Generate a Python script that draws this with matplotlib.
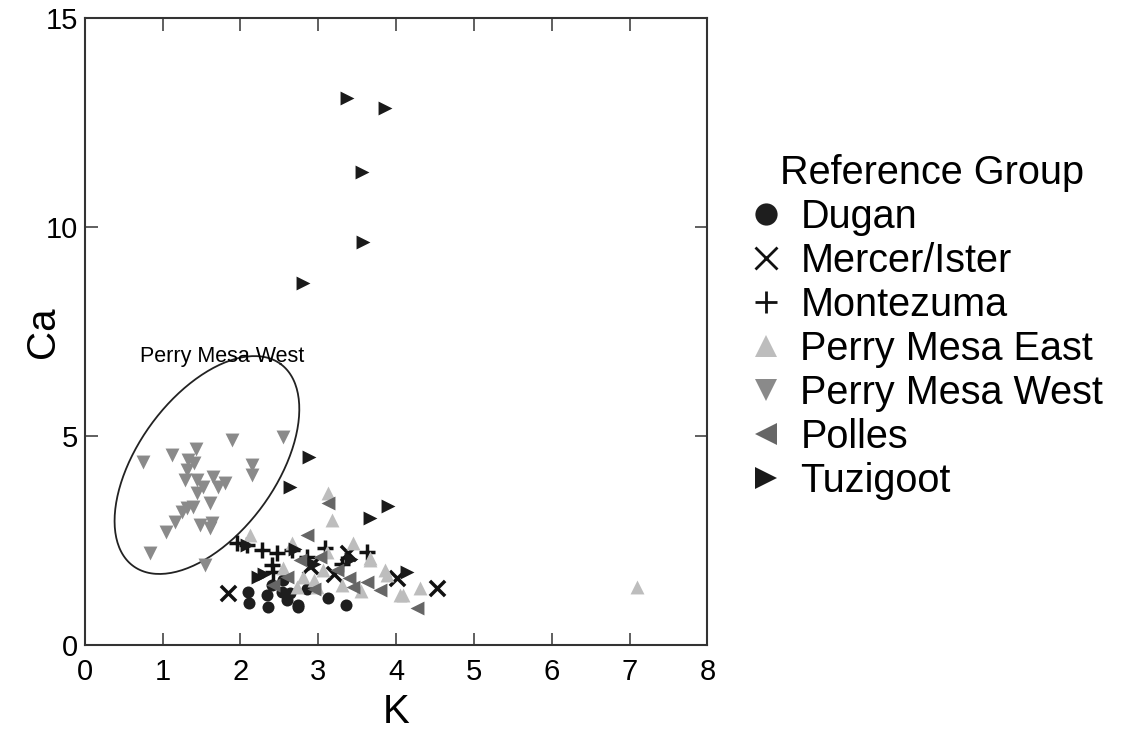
import numpy as np
import matplotlib.pyplot as plt
from matplotlib.lines import Line2D

plt.rcParams['font.family'] = ['Liberation Sans', 'DejaVu Sans']

# K (x) and Ca (y) values per reference group
dugan_k = [2.10, 2.11, 2.35, 2.74, 2.60, 2.34, 2.53, 2.64, 3.13, 3.36, 2.74, 2.40, 2.55, 2.85]
dugan_ca = [1.27, 1.00, 0.91, 0.91, 1.08, 1.20, 1.27, 1.24, 1.12, 0.96, 0.96, 1.45, 1.55, 1.35]

mercer_k = [1.84, 3.38, 4.01, 4.53, 2.89, 3.20]
mercer_ca = [1.24, 2.20, 1.60, 1.36, 1.89, 1.70]

montezuma_k = [1.95, 2.08, 2.28, 2.47, 2.41, 2.42, 2.66, 3.63, 3.09, 2.85, 3.30]
montezuma_ca = [2.44, 2.39, 2.27, 2.20, 1.91, 1.75, 2.27, 2.22, 2.32, 2.10, 1.95]

pme_k = [7.10, 3.13, 3.18, 3.67, 3.86, 4.31, 4.09, 2.12, 2.66, 3.11, 3.45, 3.67,
         2.80, 2.98, 3.88, 4.05, 2.73, 3.06, 2.95, 3.55, 2.55, 3.30]
pme_ca = [1.38, 3.64, 2.99, 2.03, 1.79, 1.36, 1.20, 2.63, 2.44, 2.22, 2.44, 2.08,
          1.63, 1.39, 1.67, 1.20, 1.39, 1.79, 1.55, 1.30, 1.85, 1.45]

pmw_k = [0.75, 1.12, 1.43, 1.89, 2.55, 2.15, 2.15, 1.33, 1.41, 1.31, 1.29, 1.44,
         1.65, 1.80, 1.52, 1.44, 1.61, 1.31, 1.25, 1.39, 1.16, 1.05, 1.48, 1.63,
         1.61, 0.84, 1.54, 1.71]
pmw_ca = [4.38, 4.55, 4.69, 4.90, 4.98, 4.31, 4.07, 4.43, 4.35, 4.19, 3.95, 3.95,
          4.02, 3.88, 3.78, 3.64, 3.40, 3.28, 3.18, 3.30, 2.94, 2.70, 2.87, 2.92,
          2.80, 2.20, 1.91, 3.78]

polles_k = [4.27, 3.13, 2.86, 3.63, 3.45, 3.79, 3.24, 3.02, 2.77, 2.42, 2.60, 3.40, 2.95]
polles_ca = [0.89, 3.40, 2.63, 1.51, 1.39, 1.32, 1.79, 2.10, 2.03, 1.44, 1.63, 1.60, 1.35]

tuzigoot_k = [3.37, 3.86, 3.56, 3.58, 2.80, 2.88, 2.64, 3.90, 3.67, 2.23, 4.14,
              2.08, 2.30, 3.42, 2.95, 2.70]
tuzigoot_ca = [13.09, 12.85, 11.32, 9.64, 8.66, 4.50, 3.78, 3.33, 3.04, 1.63, 1.75,
               2.39, 1.70, 2.05, 1.95, 2.30]

groups = [
    ('Dugan', dugan_k, dugan_ca, 'o', '#1e1e1e', 75),
    ('Mercer/Ister', mercer_k, mercer_ca, 'x', '#111111', 120),
    ('Montezuma', montezuma_k, montezuma_ca, '+', '#111111', 140),
    ('Perry Mesa East', pme_k, pme_ca, '^', '#bdbdbd', 100),
    ('Perry Mesa West', pmw_k, pmw_ca, 'v', '#8a8a8a', 100),
    ('Polles', polles_k, polles_ca, '<', '#666666', 100),
    ('Tuzigoot', tuzigoot_k, tuzigoot_ca, '>', '#1a1a1a', 100),
]

fig = plt.figure(figsize=(11.3, 7.29), dpi=100)
ax = fig.add_axes([0.075, 0.115, 0.551, 0.86])

handles = []
for name, k, ca, m, c, s in groups:
    lw = 2.5 if m in ('x', '+') else 0
    ax.scatter(k, ca, marker=m, s=s, color=c, linewidths=lw, zorder=3)
    handles.append(Line2D([], [], linestyle='', marker=m, color=c, markersize=16,
                          markeredgewidth=2 if m in ('x', '+') else 0, label=name))

# ellipse around Perry Mesa West, defined in screen-like units then mapped to data
sx, sy = 77.75, 41.8
t = np.linspace(0, 2 * np.pi, 200)
a, b, th = 125, 69, np.deg2rad(54)
ex = 1.57 + (a * np.cos(t) * np.cos(th) - b * np.sin(t) * np.sin(th)) / sx
ey = 4.31 + (a * np.cos(t) * np.sin(th) + b * np.sin(t) * np.cos(th)) / sy
ax.plot(ex, ey, color='#222222', lw=1.3, zorder=2)
ax.text(1.76, 6.9, 'Perry Mesa West', fontsize=15.5, ha='center', va='center')

ax.set_xlim(0, 8)
ax.set_ylim(0, 15)
ax.set_xticks(range(0, 9))
ax.set_yticks([0, 5, 10, 15])
ax.tick_params(direction='in', length=9, width=1.2, top=True, right=True,
               labelsize=21, color='#444444')
ax.tick_params(axis='x', pad=9)
ax.tick_params(axis='y', pad=5)
for sp in ax.spines.values():
    sp.set_linewidth(1.5)
    sp.set_color('#333333')
ax.set_xlabel('K', fontsize=29, labelpad=5)
ax.set_ylabel('Ca', fontsize=29, labelpad=-12)

leg = fig.legend(handles=handles, loc='upper left', bbox_to_anchor=(0.648, 0.81),
                 frameon=False, fontsize=28.5, title='Reference Group',
                 title_fontsize=28.5, handletextpad=0.42, labelspacing=0.15,
                 handlelength=0.9, borderaxespad=0)
leg._legend_box.align = 'left'
leg.get_title().set_position((32, 0))

fig.savefig('out.png', dpi=100)
